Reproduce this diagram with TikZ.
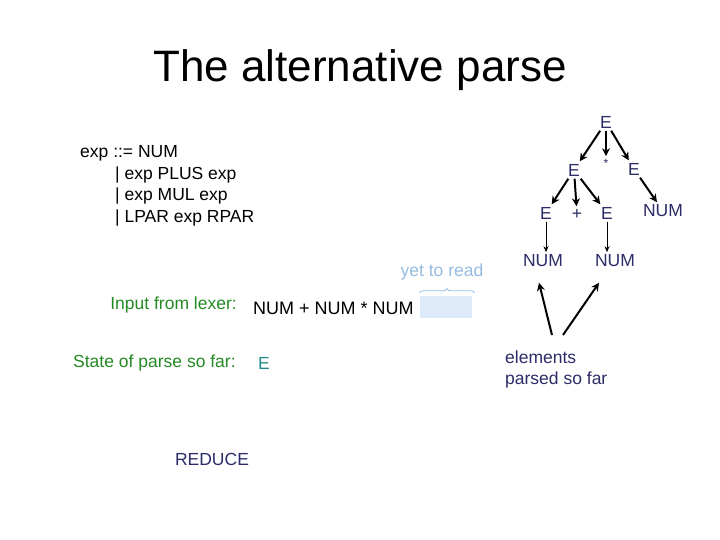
\documentclass[tikz,border=0pt]{standalone}
\usepackage{fontspec}
\setmainfont{Liberation Sans}
\usepackage{tikz}
\usetikzlibrary{arrows.meta,calc,decorations.pathreplacing}
\definecolor{navy}{RGB}{44,44,104}
\definecolor{lexgreen}{RGB}{36,138,36}
\definecolor{stateteal}{RGB}{36,140,140}
\definecolor{paleblue}{RGB}{150,188,225}
\definecolor{boxblue}{RGB}{220,234,250}
\tikzset{
  txt/.style={inner sep=2pt,font=\fontsize{17.5}{21}\selectfont},
  ttl/.style={inner sep=0pt,font=\fontsize{44}{52}\selectfont},
  gram/.style={txt,anchor=west,text=black},
  tnode/.style={txt,text=navy,inner sep=2.5pt},
  tstar/.style={tnode,font=\fontsize{12}{14}\selectfont},
  lexlbl/.style={txt,text=lexgreen},
  tarrow/.style={line width=2pt,draw=black,-{Stealth[length=8pt,width=8pt]}},
  narrow/.style={line width=1pt,draw=black,-{Stealth[length=6pt,width=5pt]}},
  brc/.style={decorate,decoration={brace,amplitude=4pt},draw=paleblue,line width=.8pt},
}
\begin{document}
\begin{tikzpicture}[x=1pt,y=-1pt]
\path[fill=white,use as bounding box] (0,0) rectangle (720,540);
\node[ttl] (title) at (360,70) {The alternative parse};
% grammar
\node[gram] (g1) at (78,153) {exp ::= NUM};
\node[gram] (g2) at (113,175) {| exp PLUS exp};
\node[gram] (g3) at (113,196) {| exp MUL exp};
\node[gram] (g4) at (113,218) {| LPAR exp RPAR};
% parse tree
\node[tnode] (eTop) at (606,122) {E};
\node[tnode] (eL)   at (574,170) {E};
\node[tstar] (star) at (606,163) {*};
\node[tnode] (eR)   at (634,169) {E};
\node[tnode] (eLL)  at (546,213) {E};
\node[tnode] (plus) at (577,214) {+};
\node[tnode] (eLR)  at (607,213) {E};
\node[tnode] (numA) at (543,261) {NUM};
\node[tnode] (numB) at (615,261) {NUM};
\node[tnode] (numC) at (663,211) {NUM};
\draw[tarrow] (eTop) -- (eL);
\draw[tarrow] (eTop) -- (star);
\draw[tarrow] (eTop) -- (eR);
\draw[tarrow] (eL) -- (eLL);
\draw[tarrow] (eL) -- (plus);
\draw[tarrow] (eL) -- (eLR);
\draw[narrow] (eLL) -- (eLL |- numA.north);
\draw[narrow] (eLR) -- (eLR |- numB.north);
\draw[tarrow] (eR) -- (numC);
% input and state
\node[txt,text=paleblue] (yet) at (442,272) {yet to read};
\node[fill=boxblue,minimum width=52pt,minimum height=22pt,inner sep=0pt] (rest) at (445.5,307) {};
\draw[brc] ([yshift=3pt]rest.north west) -- ([xshift=3pt,yshift=3pt]rest.north east);
\node[lexlbl,anchor=east] (inlbl) at (239,305) {Input from lexer:};
\node[txt,font=\fontsize{18}{21}\selectfont,anchor=west] (input) at (251,308) {NUM + NUM * NUM};
\node[lexlbl,anchor=west] (stlbl) at (71,363) {State of parse so far:};
\node[txt,text=stateteal] (state) at (264,363) {E};
\node[txt,text=navy] (act) at (212,459) {REDUCE};
% parsed so far
\node[txt,text=navy,align=left,anchor=north west] (parsed) at (503,349) {elements\\parsed so far};
\coordinate (tA) at (552,335);
\coordinate (tB) at (563,335);
\draw[tarrow] (tA) -- ($(numA.south)+(-4,13)$);
\draw[tarrow] (tB) -- ($(numB.south)+(-16,13)$);
\end{tikzpicture}
\end{document}
